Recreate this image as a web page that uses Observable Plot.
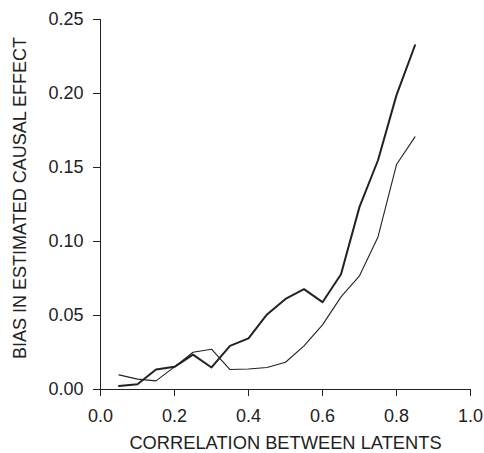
<!DOCTYPE html>
<html>
<head>
<meta charset="utf-8">
<script src="https://cdn.jsdelivr.net/npm/d3@7"></script>
<script src="https://cdn.jsdelivr.net/npm/@observablehq/plot@0.6"></script>
<style>
  html, body { margin: 0; padding: 0; background: #fff; }
</style>
</head>
<body>
<div id="chart"></div>
<script>
const correlation = [0.05, 0.10, 0.15, 0.20, 0.25, 0.30, 0.35, 0.40, 0.45, 0.50, 0.55, 0.60, 0.65, 0.70, 0.75, 0.80, 0.85];
const biasThick = [0.0024, 0.0036, 0.0135, 0.0153, 0.0236, 0.0149, 0.0295, 0.0345, 0.0507, 0.0612, 0.0678, 0.0590, 0.0779, 0.1234, 0.1549, 0.1989, 0.2326];
const biasThin  = [0.0099, 0.0070, 0.0058, 0.0153, 0.0252, 0.0272, 0.0135, 0.0139, 0.0149, 0.0184, 0.0295, 0.0437, 0.0626, 0.0768, 0.1031, 0.1520, 0.1707];
const xTicks = [0, 0.2, 0.4, 0.6, 0.8, 1.0];
const yTicks = [0, 0.05, 0.10, 0.15, 0.20, 0.25];
const xLabel = "CORRELATION BETWEEN LATENTS";
const yLabel = "BIAS IN ESTIMATED CAUSAL EFFECT";

const thick = correlation.map((x, i) => ({x, y: biasThick[i]}));
const thin = correlation.map((x, i) => ({x, y: biasThin[i]}));

const ink = "#222";
const chart = Plot.plot({
  width: 484,
  height: 453,
  marginLeft: 100,
  marginRight: 14,
  marginTop: 19,
  marginBottom: 64,
  style: {fontFamily: "'Liberation Sans', Arial, sans-serif", fontSize: "18px", color: ink, background: "#fff"},
  x: {domain: [0, 1]},
  y: {domain: [0, 0.25]},
  marks: [
    Plot.axisX({ticks: xTicks, tickFormat: d3.format(".1f"), tickSize: 7, tickPadding: 13, label: null, fontSize: 18, stroke: ink}),
    Plot.axisY({ticks: yTicks, tickFormat: d3.format(".2f"), tickSize: 7, tickPadding: 10, label: null, fontSize: 18, stroke: ink}),
    Plot.ruleX([0], {y1: 0, y2: 0.25, stroke: ink}),
    Plot.ruleY([0], {x1: 0, x2: 1, stroke: ink}),
    Plot.text([xLabel], {text: d => d, frameAnchor: "bottom", textAnchor: "middle", dy: 53.5, lineAnchor: "middle", fontSize: 18.3, fill: ink}),
    Plot.text([yLabel], {text: d => d, frameAnchor: "left", textAnchor: "middle", dx: -80.5, dy: -6.5, rotate: -90, lineAnchor: "middle", fontSize: 18, fill: ink}),
    Plot.line(thin, {x: "x", y: "y", stroke: ink, strokeWidth: 1.1}),
    Plot.line(thick, {x: "x", y: "y", stroke: ink, strokeWidth: 2})
  ]
});
document.getElementById("chart").appendChild(chart);
</script>
</body>
</html>
